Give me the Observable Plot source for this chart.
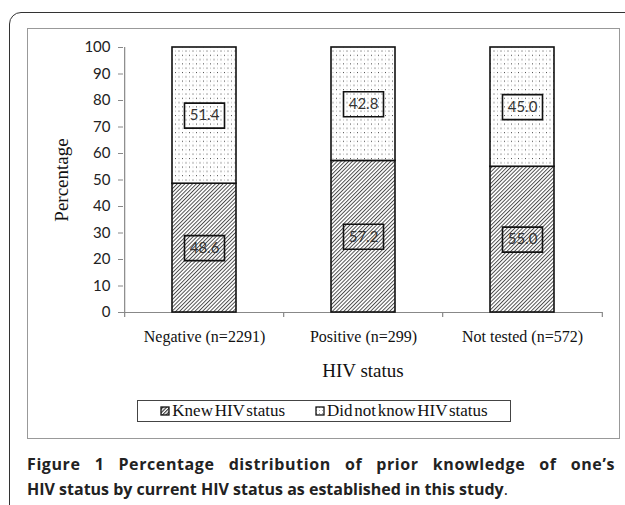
<!DOCTYPE html>
<html>
<head>
<meta charset="utf-8">
<script src="https://cdn.jsdelivr.net/npm/d3@7"></script>
<script src="https://cdn.jsdelivr.net/npm/@observablehq/plot@0.6"></script>
<style>
  html, body { margin: 0; padding: 0; background: #fff; }
  #page { position: relative; width: 625px; height: 505px; overflow: hidden; background: #fff; }
  #outer { position: absolute; left: 9px; top: 12px; width: 700px; height: 600px;
           border: 1.5px solid #333; border-radius: 12px; box-sizing: border-box; }
  #frame { position: absolute; left: 27px; top: 28px; width: 593px; height: 411px;
           border: 1.5px solid #999; box-sizing: border-box; }
  #chart { position: absolute; left: 27px; top: 28px; }
  #legend { position: absolute; left: 137px; top: 400px; width: 374px; height: 22px;
            border: 1px solid #444; box-sizing: border-box; background: #fff;
            font-family: "Liberation Serif", serif; font-size: 17px; color: #111;
            display: flex; align-items: center; justify-content: center; word-spacing: -2.5px; }
  #legend .item { display: flex; align-items: center; margin: 0 15px; }
  #legend svg { margin-right: 2px; }
  #caption { position: absolute; left: 27px; top: 452px; width: 588px;
             font-family: "Open Sans", sans-serif; font-weight: 700; font-size: 16px;
             line-height: 25px; color: #222; }
  #caption .l1 { text-align: justify; text-align-last: justify; white-space: nowrap; letter-spacing: 0.6px; }
  #caption .dot { font-weight: 400; }
</style>
</head>
<body>
<div id="page">
  <div id="outer"></div>
  <div id="frame"></div>
  <div id="chart"></div>
  <div id="legend"></div>
  <div id="caption"></div>
</div>
<script>
// ---- data ----
const categories = ["Negative (n=2291)", "Positive (n=299)", "Not tested (n=572)"];
const seriesNames = ["Knew HIV status", "Did not know HIV status"];
const knew = [48.6, 57.2, 55.0];
const didNotKnow = [51.4, 42.8, 45.0];
const yTicks = [0, 10, 20, 30, 40, 50, 60, 70, 80, 90, 100];
const xTitle = "HIV status";
const yTitle = "Percentage";
const captionLine1 = "Figure 1 Percentage distribution of prior knowledge of one\u2019s";
const captionLine2 = "HIV status by current HIV status as established in this study";

const patterns = {"Knew HIV status": "url(#hatch)", "Did not know HIV status": "url(#dots)"};
const table = [];
seriesNames.forEach((s, si) => {
  const vals = si === 0 ? knew : didNotKnow;
  categories.forEach((c, ci) => table.push({cat: c, series: s, value: vals[ci]}));
});

const W = 593, H = 410, mL = 96, mR = 18, mT = 19, mB = 126;
const step = (W - mL - mR) / categories.length;

function defs() {
  const d = d3.create("svg:defs");
  const h = d.append("pattern").attr("id", "hatch").attr("patternUnits", "userSpaceOnUse")
    .attr("width", 2.7).attr("height", 3).attr("patternTransform", "rotate(45)");
  h.append("rect").attr("width", 2.7).attr("height", 3).attr("fill", "#fff");
  h.append("rect").attr("width", 0.95).attr("height", 3).attr("fill", "#4a4a4a");
  const p = d.append("pattern").attr("id", "dots").attr("patternUnits", "userSpaceOnUse")
    .attr("width", 7).attr("height", 8.6);
  p.append("rect").attr("width", 7).attr("height", 8.6).attr("fill", "#fff");
  p.append("rect").attr("x", 1).attr("y", 1).attr("width", 1).attr("height", 1).attr("fill", "#444");
  p.append("rect").attr("x", 4.5).attr("y", 5.3).attr("width", 1).attr("height", 1).attr("fill", "#444");
  p.append("rect").attr("x", 4.5).attr("y", 1).attr("width", 1).attr("height", 1).attr("fill", "#bbb");
  p.append("rect").attr("x", 1).attr("y", 5.3).attr("width", 1).attr("height", 1).attr("fill", "#bbb");
  return d.node();
}

const boxSymbol = { draw(ctx) { ctx.rect(-20, -12.5, 40, 25); } };

const chart = Plot.plot({
  width: W, height: H,
  marginLeft: mL, marginRight: mR, marginTop: mT, marginBottom: mB,
  style: { fontFamily: "Lato, sans-serif", fontSize: "15px", background: "transparent", overflow: "visible" },
  x: { type: "band", domain: categories, paddingInner: 0.6, paddingOuter: 0.3, label: null },
  y: { domain: [0, 100], label: null },
  color: { type: "identity" },
  marks: [
    defs,
    Plot.ruleY([0], { stroke: "#888", strokeWidth: 1.2 }),
    Plot.ruleX(categories, { x: d => d, dx: -step / 2, y1: 0, y2: 0, insetBottom: -5, stroke: "#888", strokeWidth: 1.2 }),
    Plot.ruleX([categories[categories.length - 1]], { x: d => d, dx: step / 2, y1: 0, y2: 0, insetBottom: -5, stroke: "#888", strokeWidth: 1.2 }),
    Plot.ruleX([categories[0]], { x: d => d, dx: -step / 2, y1: 0, y2: 100, stroke: "#888", strokeWidth: 1.2 }),
    Plot.axisY({ ticks: yTicks, tickSize: 5, tickPadding: 8, stroke: "#888", fill: "#222",
                 fontFamily: "Lato, sans-serif", fontSize: 15, label: null }),
    Plot.axisX({ tickSize: 0, tickPadding: 18, fill: "#111", fontFamily: "Liberation Serif, serif", fontSize: 16, label: null }),
    Plot.barY(table, Plot.stackY({ x: "cat", y: "value", fill: d => patterns[d.series], stroke: "#111", strokeWidth: 1.6 })),
    Plot.dot(table, Plot.stackY({ x: "cat", y: "value", symbol: boxSymbol, r: 10, stroke: "#111", strokeWidth: 1.6, fill: "none" })),
    Plot.text(table, Plot.stackY({ x: "cat", y: "value", text: d => d.value.toFixed(1), fill: "#333",
                 fontFamily: "Lato, sans-serif", fontSize: 15 })),
    Plot.text([xTitle], { frameAnchor: "bottom", dy: 64, text: d => d, fill: "#111",
                 fontFamily: "Liberation Serif, serif", fontSize: 19 }),
    Plot.text([yTitle], { frameAnchor: "left", textAnchor: "middle", dx: -62, rotate: -90, text: d => d, fill: "#111",
                 fontFamily: "Liberation Serif, serif", fontSize: 19 })
  ]
});
document.getElementById("chart").appendChild(chart);

// legend
const legend = d3.select("#legend");
seriesNames.forEach(s => {
  const it = legend.append("div").attr("class", "item");
  const sw = it.append("svg").attr("width", 10).attr("height", 10);
  const dd = sw.append("defs");
  const id = s === seriesNames[0] ? "lh" : "ld";
  if (id === "lh") {
    const h = dd.append("pattern").attr("id", id).attr("patternUnits", "userSpaceOnUse")
      .attr("width", 2.5).attr("height", 2.5).attr("patternTransform", "rotate(45)");
    h.append("rect").attr("width", 2.5).attr("height", 2.5).attr("fill", "#fff");
    h.append("rect").attr("width", 1.1).attr("height", 2.5).attr("fill", "#333");
  } else {
    const p = dd.append("pattern").attr("id", id).attr("patternUnits", "userSpaceOnUse")
      .attr("width", 3).attr("height", 3);
    p.append("rect").attr("width", 3).attr("height", 3).attr("fill", "#fff");
    p.append("rect").attr("x", 1).attr("y", 1).attr("width", 0.8).attr("height", 0.8).attr("fill", "#777");
  }
  sw.append("rect").attr("x", 1).attr("y", 1).attr("width", 8).attr("height", 8)
    .attr("fill", `url(#${id})`).attr("stroke", "#111").attr("stroke-width", 1.3);
  it.append("span").text(s);
});

// caption
const cap = d3.select("#caption");
cap.append("div").attr("class", "l1").text(captionLine1);
const l2 = cap.append("div");
l2.append("span").text(captionLine2);
l2.append("span").attr("class", "dot").text(".");
</script>
</body>
</html>
